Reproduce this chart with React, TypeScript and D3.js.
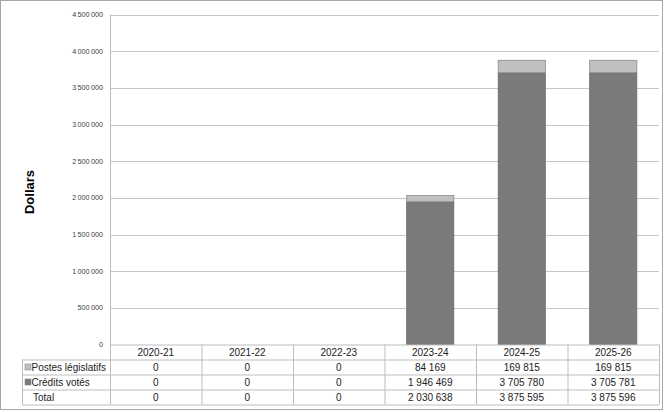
import React from "react";
import * as d3 from "d3";

const categories = ["2020-21", "2021-22", "2022-23", "2023-24", "2024-25", "2025-26"];
const postesLegislatifs = [0, 0, 0, 84169, 169815, 169815];
const creditsVotes = [0, 0, 0, 1946469, 3705780, 3705781];
const totals = [0, 0, 0, 2030638, 3875595, 3875596];
const yTicks = [0, 500000, 1000000, 1500000, 2000000, 2500000, 3000000, 3500000, 4000000, 4500000];
const seriesNames = ["Postes législatifs", "Crédits votés"];

const W = 664;
const H = 412;
const plotLeft = 110;
const plotRight = 659;
const plotTop = 14.5;
const plotBottom = 344.5;
const tableLeft = 22;
const rowH = 15;

const fmt = (v: number) => {
  const s = Math.round(v).toString();
  return s.replace(/\B(?=(\d{3})+(?!\d))/g, "\u2009");
};
const fmtTable = (v: number) => {
  const s = Math.round(v).toString();
  return s.replace(/\B(?=(\d{3})+(?!\d))/g, " ");
};

export default function App() {
  const x = d3.scaleBand<string>().domain(categories).range([plotLeft, plotRight]).paddingInner(0).paddingOuter(0);
  const y = d3.scaleLinear().domain([0, 4500000]).range([plotBottom, plotTop]);
  const bw = x.bandwidth() * 0.515;
  const font = "Arial, 'Liberation Sans', sans-serif";
  const gridColor = "#c6c6c6";
  const borderColor = "#bdbdbd";
  const rowsTop = plotBottom;
  const rows = [
    { label: seriesNames[0], values: postesLegislatifs, swatch: "#c0c0c0" },
    { label: seriesNames[1], values: creditsVotes, swatch: "#7a7a7a" },
    { label: "Total", values: totals, swatch: null as string | null },
  ];
  const tableBottom = rowsTop + rowH * 4;

  return (
    <svg width={W} height={H} style={{ position: "absolute", left: 0, top: 0, background: "#fff" }} fontFamily={font}>
      <rect x={0.5} y={0.5} width={W - 2} height={H - 3} fill="#fff" stroke="#a6a6a6" strokeWidth={1} />
      {/* gridlines */}
      {yTicks.filter((t) => t > 0).map((t) => (
        <line key={t} x1={plotLeft} x2={plotRight} y1={Math.round(y(t)) + 0.5} y2={Math.round(y(t)) + 0.5} stroke={gridColor} strokeWidth={1} />
      ))}
      {/* y tick labels */}
      {yTicks.map((t) => (
        <text key={"l" + t} x={103} y={y(t)} dy="0.35em" textAnchor="end" fontSize={7.2} fill="#404040">
          {fmt(t)}
        </text>
      ))}
      {/* y title */}
      <text transform={`translate(34,192) rotate(-90)`} textAnchor="middle" fontSize={13} fontWeight="bold" fill="#000">
        Dollars
      </text>
      {/* bars */}
      {categories.map((c, i) => {
        const cx = (x(c) as number) + x.bandwidth() / 2;
        const x0 = cx - bw / 2;
        const v1 = creditsVotes[i];
        const v2 = postesLegislatifs[i];
        if (v1 + v2 <= 0) return null;
        return (
          <g key={c}>
            <rect x={x0} y={y(v1)} width={bw} height={y(0) - y(v1)} fill="#7a7a7a" stroke="#6a6a6a" strokeWidth={0.8} />
            <rect x={x0} y={y(v1 + v2)} width={bw} height={y(v1) - y(v1 + v2)} fill="#c0c0c0" stroke="#8a8a8a" strokeWidth={0.8} />
          </g>
        );
      })}
      {/* axis vertical line */}
      <line x1={plotLeft + 0.5} x2={plotLeft + 0.5} y1={plotTop} y2={tableBottom} stroke={borderColor} strokeWidth={1} />
      {/* table horizontal lines */}
      <line x1={plotLeft} x2={plotRight} y1={rowsTop + 0.5} y2={rowsTop + 0.5} stroke={borderColor} />
      {[1, 2, 3, 4].map((k) => (
        <line key={"h" + k} x1={tableLeft} x2={plotRight} y1={rowsTop + rowH * k + 0.5} y2={rowsTop + rowH * k + 0.5} stroke={borderColor} />
      ))}
      {/* table vertical lines */}
      {categories.map((c) => (
        <line key={"v" + c} x1={(x(c) as number) + x.bandwidth() + 0.5} x2={(x(c) as number) + x.bandwidth() + 0.5} y1={rowsTop} y2={tableBottom} stroke={borderColor} />
      ))}
      <line x1={tableLeft + 0.5} x2={tableLeft + 0.5} y1={rowsTop + rowH} y2={tableBottom} stroke={borderColor} />
      {/* header */}
      {categories.map((c) => (
        <text key={"c" + c} x={(x(c) as number) + x.bandwidth() / 2} y={rowsTop + rowH / 2 + 0.5} dy="0.35em" textAnchor="middle" fontSize={10} fill="#222">
          {c}
        </text>
      ))}
      {rows.map((r, ri) => {
        const ry = rowsTop + rowH * (ri + 1);
        return (
          <g key={r.label}>
            {r.swatch && (
              <rect x={25} y={ry + 4.5} width={6} height={6} fill={r.swatch} stroke="#8a8a8a" strokeWidth={0.6} />
            )}
            <text x={r.swatch ? 31.5 : 33} y={ry + rowH / 2 + 0.5} dy="0.35em" fontSize={10} fill="#222">
              {r.label}
            </text>
            {r.values.map((v, i) => (
              <text key={i} x={(x(categories[i]) as number) + x.bandwidth() / 2} y={ry + rowH / 2 + 0.5} dy="0.35em" textAnchor="middle" fontSize={10} fill="#222">
                {fmtTable(v)}
              </text>
            ))}
          </g>
        );
      })}
    </svg>
  );
}
